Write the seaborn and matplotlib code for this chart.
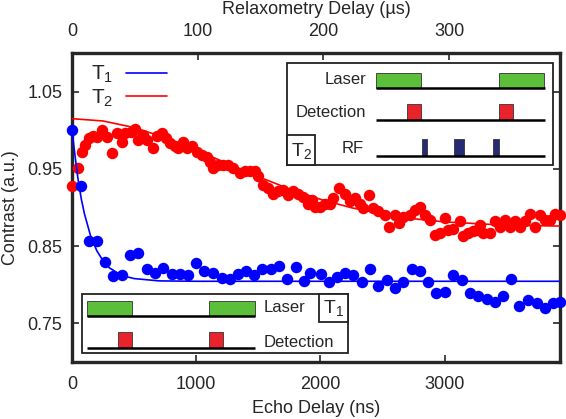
import numpy as np
import pandas as pd
import matplotlib
matplotlib.use("Agg")
import matplotlib.pyplot as plt
import seaborn as sns
from matplotlib.patches import Rectangle

# T2 (Hahn echo) data, echo delay in ns
t2_delay = [0, 51, 78, 105, 139, 172, 199, 239, 279, 320, 360, 400, 427, 473, 507, 534,
            569, 606, 655, 687, 722, 757, 789, 829, 856, 896, 924, 964, 1004, 1044, 1085,
            1111, 1138, 1178, 1218, 1259, 1299, 1353, 1393, 1433, 1474, 1500, 1541, 1581,
            1621, 1661, 1702, 1742, 1782, 1822, 1863, 1903, 1930, 1957, 1997, 2037, 2078,
            2104, 2153, 2198, 2239, 2279, 2319, 2346, 2394, 2426, 2467, 2521, 2555, 2601,
            2636, 2668, 2722, 2762, 2802, 2843, 2883, 2923, 2963, 3004, 3030, 3071, 3125,
            3151, 3191, 3232, 3259, 3286, 3312, 3366, 3406, 3447, 3487, 3527, 3567, 3608,
            3648, 3688, 3728, 3769, 3809, 3849, 3890, 3930]
t2_contrast = [0.928, 0.951, 0.972, 0.981, 0.990, 0.992, 0.991, 1.000, 0.991, 0.971, 0.996,
               0.985, 0.996, 0.998, 1.001, 0.988, 0.994, 0.988, 0.977, 0.992, 0.997, 0.990,
               0.983, 0.979, 0.977, 0.985, 0.977, 0.979, 0.972, 0.968, 0.966, 0.959, 0.951,
               0.955, 0.955, 0.955, 0.951, 0.945, 0.947, 0.947, 0.947, 0.941, 0.929, 0.925,
               0.918, 0.921, 0.923, 0.916, 0.921, 0.918, 0.914, 0.905, 0.910, 0.901, 0.901,
               0.905, 0.905, 0.912, 0.925, 0.918, 0.908, 0.912, 0.905, 0.899, 0.916, 0.899,
               0.895, 0.890, 0.875, 0.890, 0.880, 0.888, 0.890, 0.897, 0.901, 0.890, 0.884,
               0.864, 0.867, 0.886, 0.871, 0.872, 0.882, 0.863, 0.867, 0.869, 0.871, 0.877,
               0.867, 0.867, 0.882, 0.875, 0.884, 0.875, 0.882, 0.875, 0.882, 0.892, 0.875,
               0.890, 0.884, 0.884, 0.892, 0.890]

# T1 (relaxometry) data, plotted on the same echo-delay scale
t1_delay = [0, 70, 139, 204, 266, 333, 400, 467, 534, 606, 668, 735, 803, 870, 937, 999,
            1063, 1138, 1206, 1272, 1339, 1401, 1466, 1528, 1600, 1667, 1734, 1804, 1868,
            1917, 2003, 2072, 2136, 2198, 2265, 2333, 2400, 2467, 2539, 2601, 2668, 2736,
            2802, 2869, 2931, 3004, 3071, 3138, 3205, 3272, 3340, 3406, 3468, 3533, 3602,
            3675, 3742, 3809, 3876, 3930]
t1_contrast = [1.000, 0.928, 0.856, 0.856, 0.830, 0.811, 0.812, 0.838, 0.841, 0.820, 0.815,
               0.822, 0.814, 0.814, 0.812, 0.828, 0.818, 0.815, 0.809, 0.808, 0.814, 0.818,
               0.812, 0.821, 0.821, 0.824, 0.808, 0.823, 0.805, 0.815, 0.814, 0.804, 0.810,
               0.815, 0.812, 0.804, 0.820, 0.799, 0.806, 0.796, 0.804, 0.821, 0.818, 0.804,
               0.789, 0.791, 0.812, 0.806, 0.789, 0.786, 0.782, 0.778, 0.785, 0.807, 0.773,
               0.780, 0.776, 0.770, 0.776, 0.778]

# fit curves
t1_fit_x = [0, 25, 50, 75, 100, 150, 200, 250, 300, 400, 500, 700, 1000, 2000, 3930]
t1_fit_y = [1.000, 0.966, 0.935, 0.911, 0.892, 0.863, 0.844, 0.831, 0.822, 0.812, 0.808,
            0.805, 0.8045, 0.8045, 0.8045]
t2_fit_x = [0, 250, 500, 750, 1000, 1250, 1500, 1750, 2000, 2250, 2500, 2750, 3000, 3500, 3930]
t2_fit_y = [1.015, 1.012, 1.0035, 0.9905, 0.9745, 0.957, 0.940, 0.924, 0.9106, 0.8997,
            0.8915, 0.8855, 0.8814, 0.877, 0.876]

y_ticks = [0.75, 0.85, 0.95, 1.05]
x_ticks = [0, 1000, 2000, 3000]
top_ticks = [0, 100, 200, 300]
ns_to_us = 0.0988

sns.set_style("ticks")
plt.rcParams['font.family'] = ['Liberation Sans', 'DejaVu Sans']
plt.rcParams['mathtext.fontset'] = 'custom'
plt.rcParams['mathtext.rm'] = 'Liberation Sans'
plt.rcParams['mathtext.it'] = 'Liberation Sans'

fig = plt.figure(figsize=(5.66, 4.19), dpi=100)
ax = fig.add_axes([72 / 566, 1 - 362 / 419, 488 / 566, 309 / 419])

df1 = pd.DataFrame({'x': t1_delay, 'y': t1_contrast})
df2 = pd.DataFrame({'x': t2_delay, 'y': t2_contrast})
sns.scatterplot(data=df2, x='x', y='y', color='#ff0000', s=68, linewidth=0, ax=ax, zorder=3, clip_on=False)
sns.scatterplot(data=df1, x='x', y='y', color='#0000ff', s=68, linewidth=0, ax=ax, zorder=3, clip_on=False)
sns.lineplot(x=t1_fit_x, y=t1_fit_y, color='#0000ff', lw=1.2, ax=ax, label=r'$\mathregular{T_1}$', zorder=4)
sns.lineplot(x=t2_fit_x, y=t2_fit_y, color='#ff0000', lw=1.2, ax=ax, label=r'$\mathregular{T_2}$', zorder=4)

ax.set_xlim(0, 3930)
ax.set_ylim(0.70, 1.10)
ax.set_xticks(x_ticks)
ax.set_yticks(y_ticks)
ax.set_yticklabels([f'{v:.2f}' for v in y_ticks])
ax.set_xlabel('Echo Delay (ns)', fontsize=13, labelpad=5)
ax.set_ylabel('Contrast (a.u.)', fontsize=13, labelpad=6)
ax.tick_params(direction='in', length=5, width=1.2, labelsize=13, pad=7,
               top=False, right=True)
ax.tick_params(axis='x', pad=10)
for sp in ax.spines.values():
    sp.set_linewidth(2.4)

sec = ax.secondary_xaxis('top', functions=(lambda x: x * ns_to_us, lambda x: x / ns_to_us))
sec.set_xticks(top_ticks)
sec.set_xlabel('Relaxometry Delay (\u00b5s)', fontsize=13, labelpad=7)
sec.tick_params(direction='in', length=5, width=1.2, labelsize=13, pad=9)

leg = ax.legend(loc='upper left', bbox_to_anchor=(0.0, 1.025), frameon=False, markerfirst=False,
                fontsize=15, handlelength=2.0, handletextpad=0.6, labelspacing=0.1)

# pulse-sequence insets drawn in figure pixels
ov = fig.add_axes([0, 0, 1, 1], facecolor='none')
ov.set_xlim(0, 566)
ov.set_ylim(419, 0)
ov.axis('off')

green, red, navy = '#5cbf3a', '#e8232b', '#262b73'

def box(x0, y0, x1, y1, lw=1.3):
    ov.add_patch(Rectangle((x0, y0), x1 - x0, y1 - y0, facecolor='white', edgecolor='#222222', lw=lw, zorder=5))

def pulse(x0, x1, y0, y1, c):
    ov.add_patch(Rectangle((x0, y0), x1 - x0, y1 - y0, facecolor=c, edgecolor='#333333', lw=0.6, zorder=6))

def base(x0, x1, y):
    ov.plot([x0, x1], [y, y], color='black', lw=1.8, zorder=7, solid_capstyle='butt')

# T2 sequence (top right)
box(287, 63, 553, 165)
box(287, 135, 315, 165)
ov.text(301, 151, r'$\mathregular{T_2}$', fontsize=14, ha='center', va='center', zorder=8)
ov.text(366, 80, 'Laser', fontsize=12, ha='right', va='center', zorder=8)
ov.text(366, 112, 'Detection', fontsize=12, ha='right', va='center', zorder=8)
ov.text(364, 148, 'RF', fontsize=12, ha='right', va='center', zorder=8)
pulse(376, 421, 73, 88, green)
pulse(499, 544, 73, 88, green)
base(376, 545, 88)
pulse(407, 421, 104, 120, red)
pulse(499, 513, 104, 120, red)
base(376, 545, 120)
pulse(422, 427, 139, 156, navy)
pulse(454, 464, 139, 156, navy)
pulse(493, 499, 139, 156, navy)
base(376, 545, 156)

# T1 sequence (bottom left)
box(82, 294, 348, 353)
box(319, 294, 348, 322)
ov.text(333, 308, r'$\mathregular{T_1}$', fontsize=14, ha='center', va='center', zorder=8)
ov.text(264, 307, 'Laser', fontsize=12, ha='left', va='center', zorder=8)
ov.text(264, 342, 'Detection', fontsize=12, ha='left', va='center', zorder=8)
pulse(87, 132, 301, 316, green)
pulse(209, 255, 301, 316, green)
base(87, 255, 316)
pulse(118, 132, 332, 348, red)
pulse(209, 223, 332, 348, red)
base(87, 255, 348)

fig.savefig('out.png', dpi=100)
